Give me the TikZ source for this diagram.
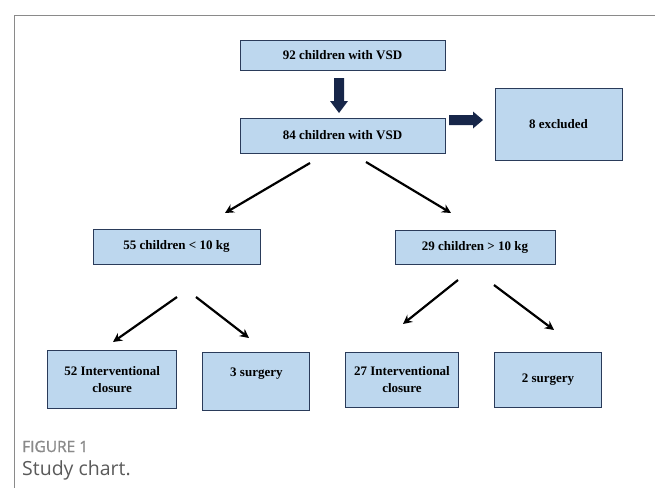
\documentclass[tikz,border=0pt]{standalone}
\usepackage{fontspec}
\setmainfont{Liberation Serif}
\newfontfamily\capfont{Open Sans}
\newfontfamily\capfontsb{Open Sans}[FakeBold=1.2]
\usetikzlibrary{arrows.meta}
\definecolor{boxfill}{HTML}{BDD7EE}
\definecolor{boxline}{HTML}{2A3B5A}
\definecolor{navy}{HTML}{172649}
\definecolor{framegray}{HTML}{8A8A8A}
\definecolor{capgray}{HTML}{5A5A5A}
\tikzset{
  box/.style={draw=boxline, line width=0.9pt, fill=boxfill, inner sep=0pt, align=center,
    font=\fontsize{13}{16.5}\selectfont\bfseries},
  flow/.style={line width=2.2pt, -{Stealth[length=9pt,width=9pt]}},
  blockarrow/.style={fill=navy, draw=none}
}
\begin{document}
\begin{tikzpicture}[x=1pt,y=-1pt]
\useasboundingbox (0,0) rectangle (655,488);
% frame
\draw[framegray, line width=1pt] (655,15) -- (14,15) -- (14,488);
% boxes
\node[box, minimum width=205pt, minimum height=30pt] (b92) at (342.5,55) {92 children with VSD};
\node[box, minimum width=205pt, minimum height=35pt] (b84) at (342.5,135.5) {84 children with VSD};
\node[box, minimum width=127pt, minimum height=72pt] (b8) at (558.5,124) {8 excluded};
\node[box, minimum width=167pt, minimum height=35pt] (b55) at (176.5,246.5) {55 children < 10 kg};
\node[box, minimum width=160pt, minimum height=34pt] (b29) at (475,247) {29 children > 10 kg};
\node[box, minimum width=129pt, minimum height=58pt] (b52) at (112.2,379.7) {52 Interventional\\closure};
\node[box, minimum width=107pt, minimum height=58pt, text height=9pt, text depth=18pt] (b3) at (256.4,381.2) {3 surgery};
\node[box, minimum width=113pt, minimum height=55pt] (b27) at (402,379.8) {27 Interventional\\closure};
\node[box, minimum width=107pt, minimum height=55pt] (b2) at (548,380) {2 surgery};
% block arrows
\coordinate (da1) at (339,78);
\coordinate (da2) at (339,113);
\path[blockarrow] ([xshift=-5pt]da1) -- ++(10,0) -- ++(0,23) -- ++(4,0) -- (da2) -- ++(-9,-12) -- ++(4,0) -- cycle;
\coordinate (ra1) at (449,120);
\coordinate (ra2) at (483,120);
\path[blockarrow] ([yshift=5pt]ra1) -- ++(24,0) -- ++(0,-3.5) -- (ra2) -- ++(-10,8.5) -- ++(0,-3.5) -- ++(-24,0) -- cycle;
% diagonal arrows
\coordinate (a1s) at (310,163); \coordinate (a1e) at (225,213);
\coordinate (a2s) at (366,162); \coordinate (a2e) at (451,213);
\coordinate (a3s) at (177,297); \coordinate (a3e) at (113,342);
\coordinate (a4s) at (196,297); \coordinate (a4e) at (249,338);
\coordinate (a5s) at (458,280); \coordinate (a5e) at (403,324);
\coordinate (a6s) at (494,285); \coordinate (a6e) at (554,330);
\foreach \s/\e in {a1s/a1e,a2s/a2e,a3s/a3e,a4s/a4e,a5s/a5e,a6s/a6e}
  \draw[flow] (\s) -- (\e);
% caption
\node[anchor=base west, inner sep=0pt, font=\capfontsb\fontsize{15.5}{18}\selectfont, text=framegray] (fig) at (22,452) {FIGURE 1};
\node[anchor=base west, inner sep=0pt, font=\capfont\fontsize{19.5}{22}\selectfont, text=capgray] (cap) at (22,475) {Study chart.};
\end{tikzpicture}
\end{document}
